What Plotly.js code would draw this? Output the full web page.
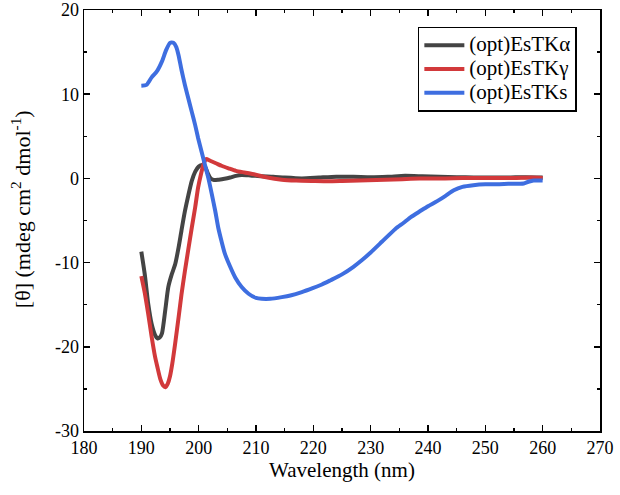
<!DOCTYPE html>
<html>
<head>
<meta charset="utf-8">
<script src="https://cdn.plot.ly/plotly-3.0.1.min.js"></script>
<style>html,body{margin:0;padding:0;background:#fff;}#chart{width:620px;height:495px;}</style>
</head>
<body>
<div id="chart"></div>
<script>
// (opt)EsTKα
const alphaX = [190, 190.6, 191.2, 191.8, 192.4, 192.8, 193.2, 193.6, 194.2, 194.7, 195.3, 195.9, 196.5, 197.0, 197.6, 198.2, 198.8, 199.4, 200.0, 200.6, 201.1, 201.6, 202.1, 202.7, 203.5, 204.5, 205.5, 206.5, 207.5, 209, 211, 213, 215, 218, 221, 224, 227, 230, 233, 236, 239, 242, 245, 248, 251, 254, 257, 260];
const alphaY = [-8.7, -11.4, -14.9, -17.3, -18.6, -19.0, -18.9, -18.4, -15.5, -12.9, -11.4, -10.2, -8.2, -6.2, -3.9, -2.0, -0.3, 0.8, 1.4, 1.6, 1.4, 0.6, 0.0, -0.2, -0.15, -0.05, 0.1, 0.3, 0.4, 0.35, 0.25, 0.2, 0.1, 0.0, 0.1, 0.2, 0.2, 0.15, 0.2, 0.3, 0.25, 0.2, 0.15, 0.1, 0.1, 0.1, 0.15, 0.1];
// (opt)EsTKγ
const gammaX = [190, 190.6, 191.2, 191.8, 192.4, 192.8, 193.3, 193.8, 194.2, 194.6, 195.0, 195.4, 195.9, 196.5, 197.0, 197.6, 198.2, 198.8, 199.4, 199.9, 200.4, 200.9, 201.3, 202, 203, 204, 205.2, 206.5, 208, 209.8, 212, 214.5, 217, 220, 222.6, 225, 228, 231, 234, 237, 240, 243, 246, 249, 252, 255, 258, 260];
const gammaY = [-11.6, -13.6, -16.1, -18.8, -21.2, -22.4, -23.8, -24.6, -24.8, -24.4, -23.5, -22.0, -19.6, -16.5, -13.8, -11.0, -8.4, -5.85, -3.4, -1.1, 0.5, 1.8, 2.3, 2.1, 1.8, 1.5, 1.2, 0.9, 0.7, 0.46, 0.1, -0.15, -0.25, -0.3, -0.33, -0.3, -0.25, -0.2, -0.13, -0.05, 0.0, 0.0, 0.05, 0.05, 0.05, 0.05, 0.1, 0.05];
// (opt)EsTKs
const sX = [190, 190.9, 191.8, 192.7, 193.6, 194.3, 195.0, 195.6, 196.1, 196.5, 197.0, 197.6, 198.2, 198.8, 199.4, 199.9, 200.5, 201.1, 201.7, 202.3, 202.9, 203.4, 204.0, 204.6, 205.5, 206.4, 207.5, 208.7, 210, 211, 212.5, 214.5, 216, 218, 220, 221.5, 223, 225, 227, 228.5, 230, 232, 234.3, 235.7, 237, 238.6, 240, 241.6, 243, 244.5, 246, 247.9, 250, 252, 254, 256.7, 257.5, 258.4, 260];
const sY = [11.0, 11.1, 12.0, 12.7, 13.9, 15.2, 16.1, 16.1, 15.6, 14.6, 12.9, 11.1, 9.5, 7.9, 6.3, 4.8, 3.2, 1.6, 0.0, -1.9, -3.9, -5.8, -7.5, -9.0, -10.5, -11.8, -12.9, -13.7, -14.2, -14.3, -14.3, -14.1, -13.9, -13.5, -13.0, -12.6, -12.1, -11.4, -10.5, -9.7, -8.8, -7.5, -6.0, -5.3, -4.6, -3.9, -3.3, -2.7, -2.1, -1.4, -1.0, -0.8, -0.7, -0.7, -0.65, -0.6, -0.4, -0.25, -0.25];

const seriesNames = ['(opt)EsTKα', '(opt)EsTKγ', '(opt)EsTKs'];
const xTickVals = [180, 190, 200, 210, 220, 230, 240, 250, 260, 270];
const yTickVals = [-30, -20, -10, 0, 10, 20];
const xTitle = 'Wavelength (nm)';
const yTitle = '[θ] (mdeg cm<sup>2</sup> dmol<sup>-1</sup>)';

const serif = 'Liberation Serif';
const mk = (x, y, name, color) => ({
  x: x, y: y, name: '<span style="font-size:21px">' + name + '</span>', type: 'scatter', mode: 'lines',
  line: {color: color, width: 4, shape: 'spline', smoothing: 0.6}
});

const data = [
  mk(alphaX, alphaY, seriesNames[0], '#444444'),
  mk(gammaX, gammaY, seriesNames[1], '#d2393b'),
  mk(sX, sY, seriesNames[2], '#3e6ee0')
];

const axisCommon = {
  showgrid: false, zeroline: false, showline: true, linecolor: '#000', linewidth: 1.5,
  mirror: 'ticks', ticks: 'inside', ticklen: 6, tickwidth: 1.5, tickcolor: '#000',
  ticklabeloverflow: 'allow',
  tickfont: {family: serif, size: 18, color: '#000'}
};

const layout = {
  width: 620, height: 495,
  margin: {l: 84, r: 20, t: 10, b: 64},
  paper_bgcolor: '#fff', plot_bgcolor: '#fff',
  showlegend: true,
  font: {family: serif, color: '#000'},
  xaxis: Object.assign({}, axisCommon, {
    range: [180, 270], tickvals: xTickVals, ticktext: xTickVals.map(String),
    minor: {dtick: 5, ticks: 'inside', ticklen: 3, tickwidth: 1.5, tickcolor: '#000'},
    title: {text: xTitle, font: {family: serif, size: 21, color: '#000'}, standoff: 0}
  }),
  yaxis: Object.assign({}, axisCommon, {
    range: [-30, 20], tickvals: yTickVals, ticktext: yTickVals.map(String),
    minor: {dtick: 5, ticks: 'inside', ticklen: 3, tickwidth: 1.5, tickcolor: '#000'}
  }),
  annotations: [{
    text: yTitle, textangle: -90, showarrow: false,
    xref: 'paper', yref: 'paper', x: -0.122, y: 0.527, xanchor: 'center', yanchor: 'middle',
    font: {family: serif, size: 22, color: '#000'}
  }],
  legend: {
    x: 0.647, y: 0.96, xanchor: 'left', yanchor: 'top',
    bordercolor: '#000', borderwidth: 1.5, bgcolor: '#fff',
    font: {family: serif, size: 16, color: '#000'},
    tracegroupgap: 0, itemwidth: 40
  }
};

Plotly.newPlot('chart', data, layout, {staticPlot: true, displayModeBar: false});
</script>
</body>
</html>
